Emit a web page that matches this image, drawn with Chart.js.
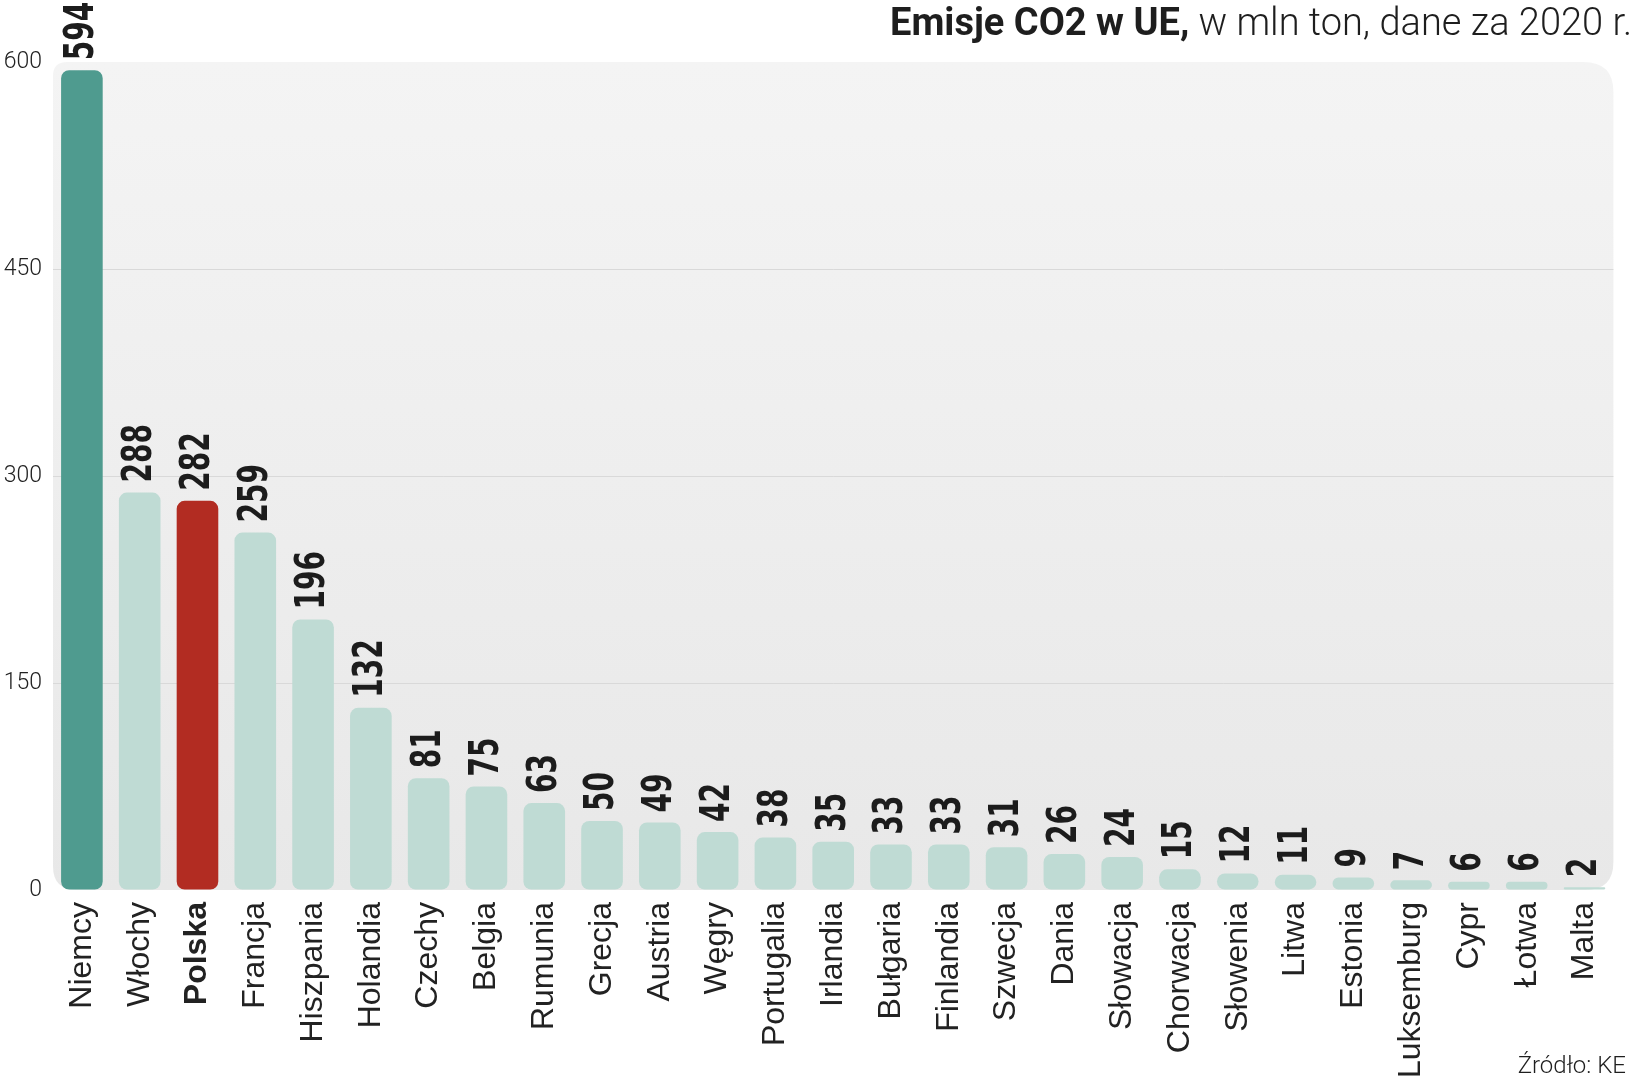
<!DOCTYPE html>
<html>
<head>
<meta charset="utf-8">
<script src="https://cdn.jsdelivr.net/npm/chart.js@4"></script>
<style>
  html, body { margin: 0; padding: 0; background: #ffffff; }
  #wrap { width: 1635px; height: 1080px; }
</style>
</head>
<body>
<div id="wrap"><canvas id="c" width="1635" height="1080"></canvas></div>
<script>
const countries = ["Niemcy","Włochy","Polska","Francja","Hiszpania","Holandia","Czechy","Belgia","Rumunia","Grecja","Austria","Węgry","Portugalia","Irlandia","Bułgaria","Finlandia","Szwecja","Dania","Słowacja","Chorwacja","Słowenia","Litwa","Estonia","Luksemburg","Cypr","Łotwa","Malta"];
const emissions = [594,288,282,259,196,132,81,75,63,50,49,42,38,35,33,33,31,26,24,15,12,11,9,7,6,6,2];
const yTicks = [0,150,300,450,600];
const titleBold = "Emisje CO2 w UE,";
const titleLight = " w mln ton, dane za 2020 r.";
const sourceText = "Źródło: KE";

const COL_DE = "#4f9b8f", COL_PL = "#b22c22", COL_OTHER = "#bfdbd4";
const barColors = countries.map(c => c === "Niemcy" ? COL_DE : (c === "Polska" ? COL_PL : COL_OTHER));

function rrect(ctx, x, y, w, h, r) {
  ctx.beginPath();
  ctx.moveTo(x + r.tl, y);
  ctx.lineTo(x + w - r.tr, y);
  ctx.quadraticCurveTo(x + w, y, x + w, y + r.tr);
  ctx.lineTo(x + w, y + h - r.br);
  ctx.quadraticCurveTo(x + w, y + h, x + w - r.br, y + h);
  ctx.lineTo(x + r.bl, y + h);
  ctx.quadraticCurveTo(x, y + h, x, y + h - r.bl);
  ctx.lineTo(x, y + r.tl);
  ctx.quadraticCurveTo(x, y, x + r.tl, y);
  ctx.closePath();
}

const decor = {
  id: "decor",
  beforeDraw(chart) {
    const { ctx, chartArea: a } = chart;
    ctx.save();
    const g = ctx.createLinearGradient(0, a.top, 0, a.bottom);
    g.addColorStop(0, "#f4f4f4");
    g.addColorStop(1, "#e8e8e8");
    ctx.fillStyle = g;
    rrect(ctx, a.left, a.top, a.right - a.left, a.bottom - a.top, { tl: 14, tr: 30, br: 28, bl: 24 });
    ctx.fill();
    ctx.restore();
  },
  afterDraw(chart) {
    const { ctx } = chart;
    const meta = chart.getDatasetMeta(0);
    ctx.save();
    // value labels (condensed bold digits)
    ctx.fillStyle = "#1c1c1c";
    ctx.font = "bold 40px 'Liberation Sans Narrow', 'DejaVu Sans Condensed', 'Liberation Sans', sans-serif";
    ctx.textAlign = "left";
    ctx.textBaseline = "middle";
    const digitW = ctx.measureText("0").width;
    const squeeze = Math.min(1, 19.5 / digitW);
    meta.data.forEach((bar, i) => {
      ctx.save();
      ctx.translate(bar.x + 1, bar.y - 10);
      ctx.rotate(-Math.PI / 2);
      ctx.scale(squeeze, 1);
      ctx.fillText(String(emissions[i]), 0, 0);
      ctx.restore();
    });
    // title
    const fs = 38;
    const fb = "bold " + fs + "px Roboto, 'Liberation Sans', sans-serif";
    const fl = "300 " + fs + "px Roboto, 'Liberation Sans', sans-serif";
    ctx.font = fb; const wb = ctx.measureText(titleBold).width;
    ctx.font = fl; const wl = ctx.measureText(titleLight).width;
    const target = 1632 - 887;
    const sx = Math.min(1, target / (wb + wl));
    ctx.save();
    ctx.translate(1632, 35);
    ctx.scale(sx, 1);
    ctx.textAlign = "left";
    ctx.textBaseline = "alphabetic";
    ctx.fillStyle = "#1e1e1e";
    ctx.font = fb;
    ctx.fillText(titleBold, -(wb + wl), 0);
    ctx.font = fl;
    ctx.fillText(titleLight, -wl, 0);
    ctx.restore();
    // source
    ctx.font = "300 24px Roboto, 'Liberation Sans', sans-serif";
    ctx.fillStyle = "#1e1e1e";
    ctx.textAlign = "right";
    ctx.textBaseline = "alphabetic";
    ctx.fillText(sourceText, 1626, 1073);
    ctx.restore();
  }
};

new Chart(document.getElementById("c"), {
  type: "bar",
  data: {
    labels: countries,
    datasets: [{
      data: emissions,
      backgroundColor: barColors,
      borderRadius: 8,
      borderSkipped: false,
      barPercentage: 0.72,
      categoryPercentage: 1.0
    }]
  },
  options: {
    responsive: false,
    animation: false,
    devicePixelRatio: 1,
    layout: { padding: { top: 62, right: 5, left: 0, bottom: 0 } },
    plugins: { legend: { display: false }, tooltip: { enabled: false }, title: { display: false } },
    scales: {
      x: {
        afterFit(scale) { scale.height = 190; },
        grid: { display: false, drawTicks: false },
        border: { display: false },
        ticks: {
          autoSkip: false,
          minRotation: 90,
          maxRotation: 90,
          padding: 12,
          color: "#222222",
          font: (ctx) => ({
            family: "'Liberation Sans', Arial, sans-serif",
            size: 32,
            weight: countries[ctx.index] === "Polska" ? "bold" : "normal"
          })
        }
      },
      y: {
        min: 0,
        max: 600,
        afterFit(scale) { scale.width = 53; },
        afterBuildTicks(scale) { scale.ticks = yTicks.map(v => ({ value: v })); },
        grid: {
          drawTicks: false,
          color: (ctx) => (ctx.tick && (ctx.tick.value === 0 || ctx.tick.value === 600)) ? "rgba(0,0,0,0)" : "#d9d9d9",
          lineWidth: 1
        },
        border: { display: false },
        ticks: {
          padding: 11,
          color: "#222222",
          font: { family: "Roboto, 'Liberation Sans', sans-serif", size: 23, weight: "300" }
        }
      }
    }
  },
  plugins: [decor]
});
</script>
</body>
</html>
